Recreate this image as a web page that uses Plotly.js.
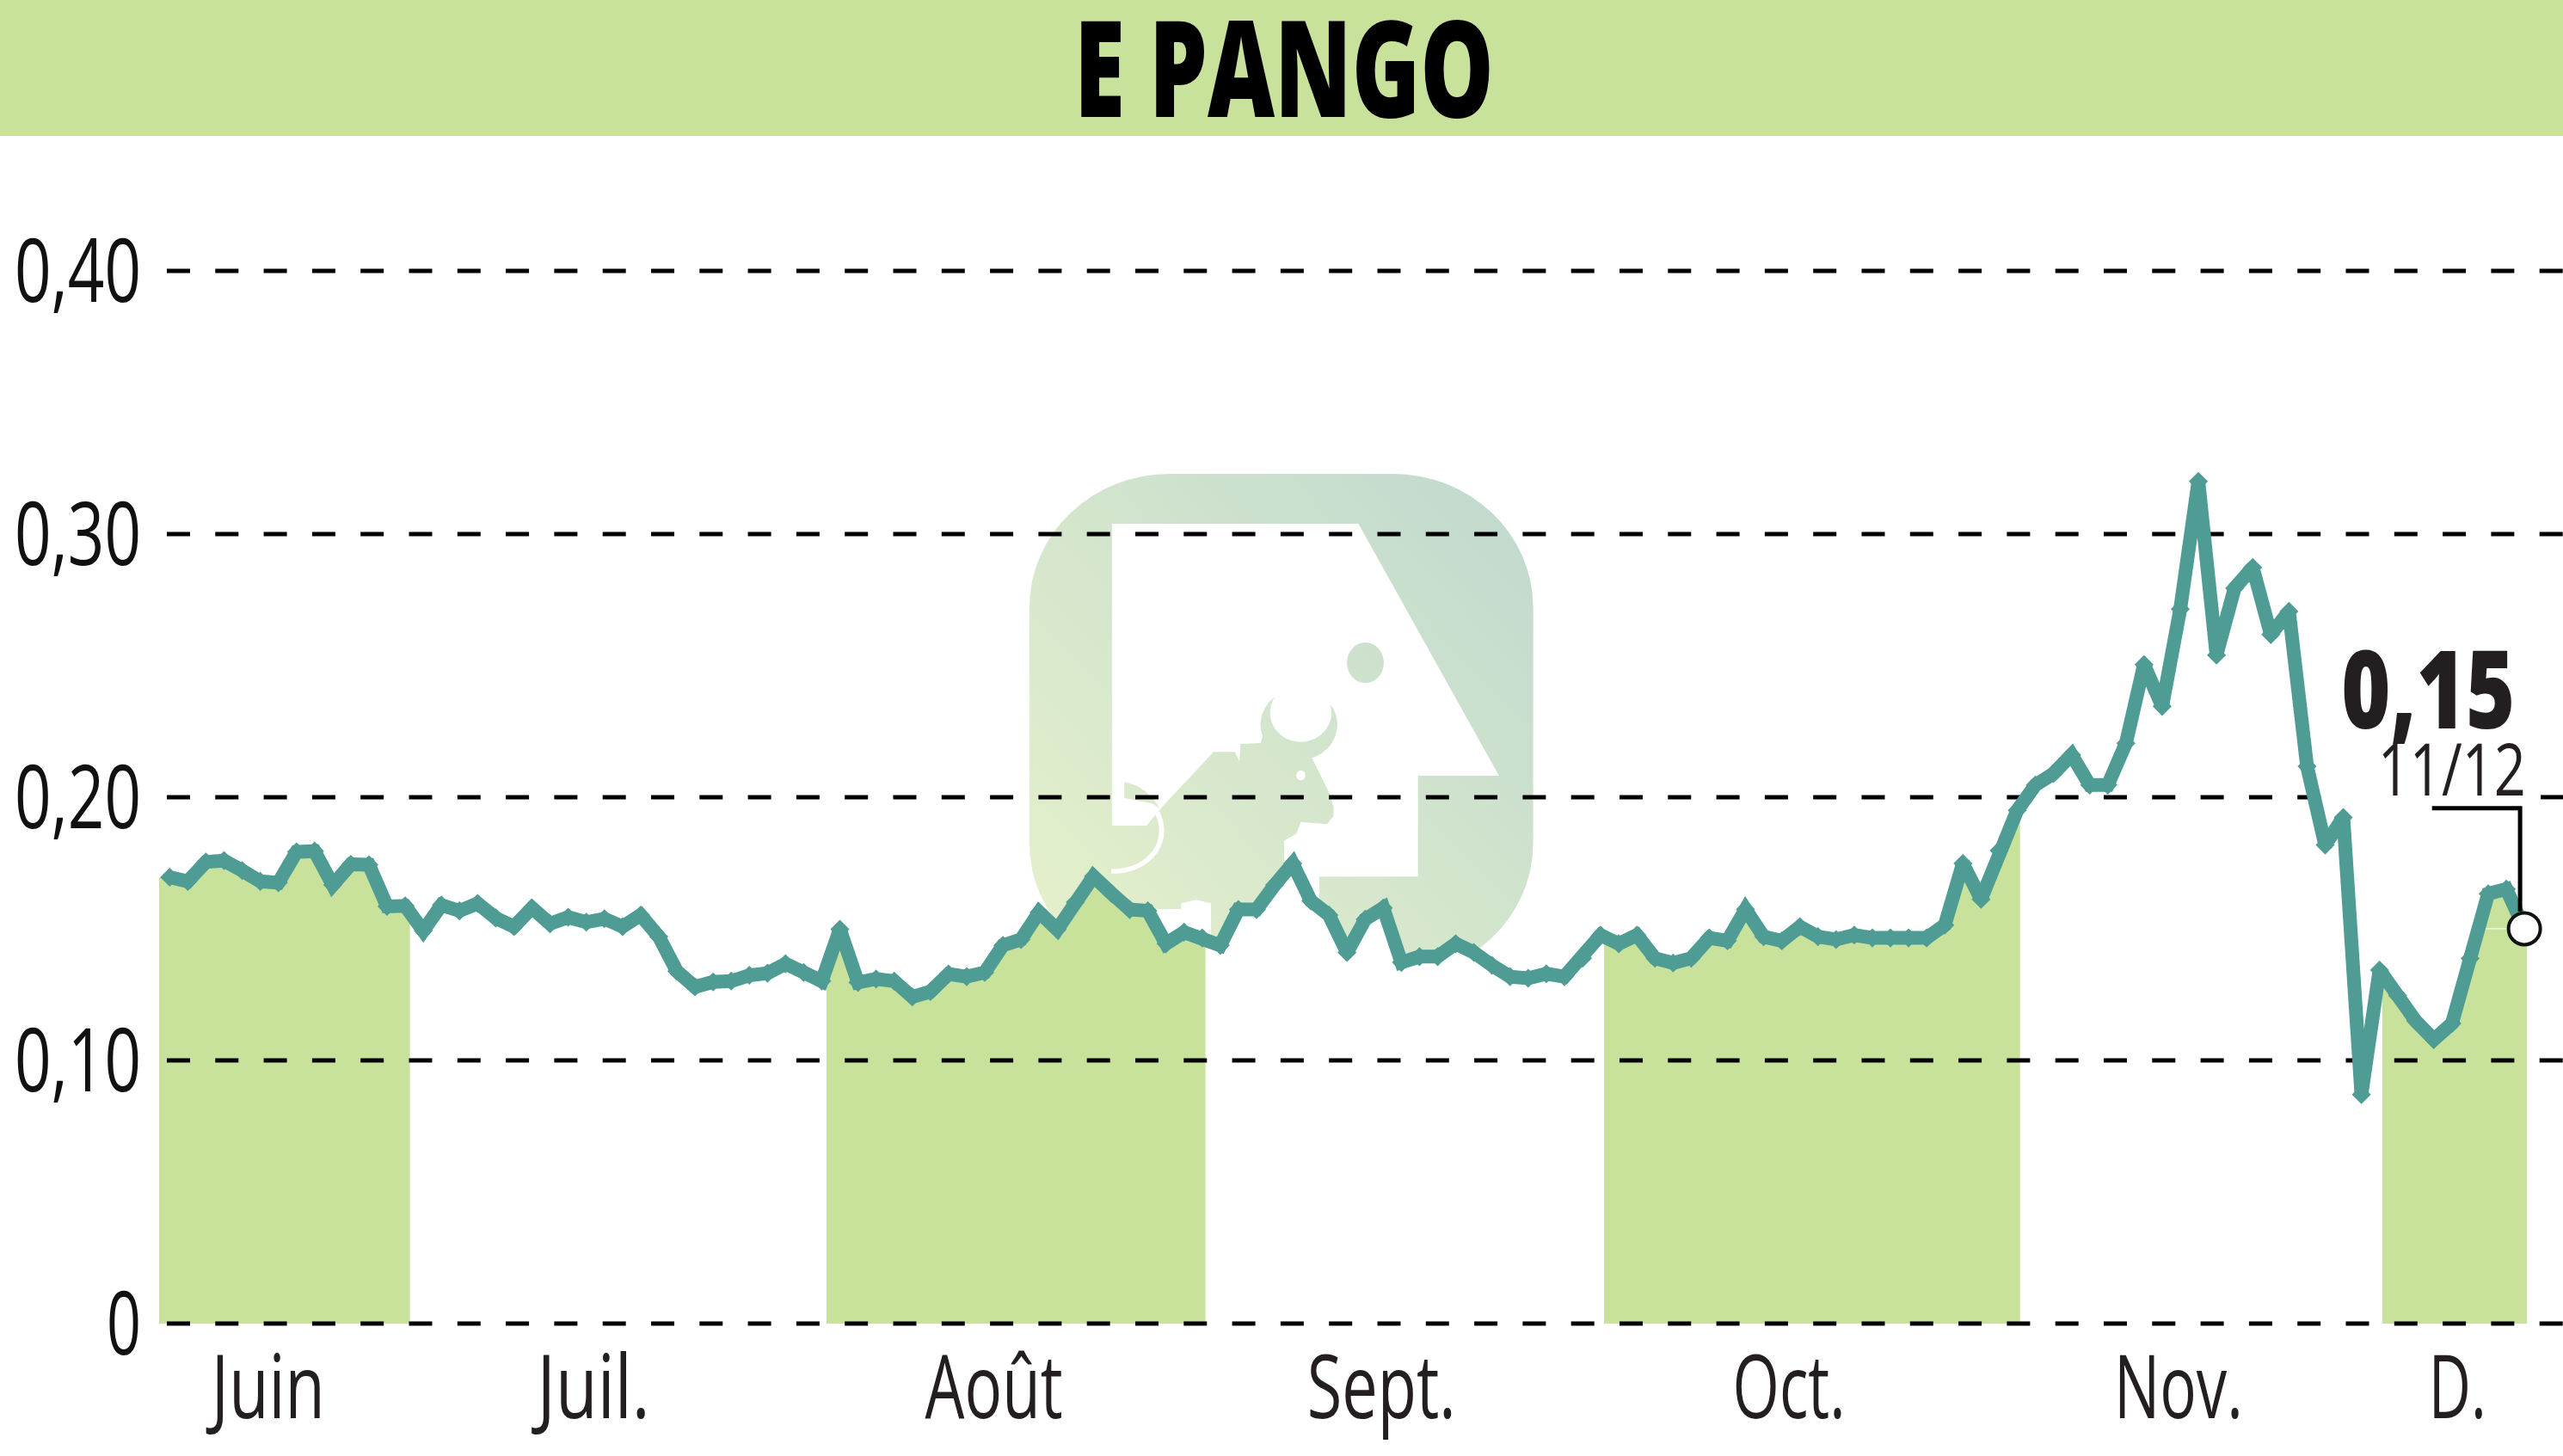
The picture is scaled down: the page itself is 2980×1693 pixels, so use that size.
<!DOCTYPE html>
<html>
<head>
<meta charset="utf-8">
<script src="https://cdn.plot.ly/plotly-3.0.1.min.js"></script>
<style>html,body{margin:0;padding:0;background:#fff}#c{width:2980px;height:1693px}</style>
</head>
<body>
<div id="c"></div>
<script>
const chartTitle = "E PANGO";
const prices = [
0.1696,0.1680,0.1754,0.1759,0.1721,0.1680,0.1675,0.1792,0.1795,0.1666,
0.1745,0.1743,0.1585,0.1587,0.1492,0.1590,0.1568,0.1596,0.1541,0.1508,
0.1579,0.1519,0.1544,0.1525,0.1538,0.1508,0.1552,0.1470,0.1339,0.1279,
0.1298,0.1301,0.1323,0.1331,0.1367,0.1334,0.1301,0.1498,0.1296,0.1309,
0.1301,0.1241,0.1261,0.1328,0.1318,0.1334,0.1437,0.1459,0.1563,0.1497,
0.1601,0.1699,0.1634,0.1573,0.1568,0.1443,0.1487,0.1465,0.1437,0.1573,
0.1573,0.1666,0.1748,0.1606,0.1552,0.1410,0.1536,0.1579,0.1372,0.1394,
0.1394,0.1443,0.1410,0.1361,0.1318,0.1312,0.1329,0.1318,0.1388,0.1476,
0.1443,0.1476,0.1388,0.1370,0.1388,0.1465,0.1454,0.1574,0.1470,0.1454,
0.1508,0.1470,0.1459,0.1476,0.1465,0.1465,0.1465,0.1465,0.1514,0.1748,
0.1612,0.1797,0.1950,0.2046,0.2090,0.2161,0.2046,0.2046,0.2205,0.2504,
0.2345,0.2715,0.3200,0.2540,0.2794,0.2873,0.2618,0.2706,0.2117,0.1818,
0.1923,0.0870,0.1343,0.1246,0.1149,0.1079,0.1140,0.1387,0.1633,0.1651,
0.1500];
const monthEdges = [-0.584,13.27,36.26,57.19,79.19,102.16,122.15,130.14];
const monthColors = ["#c8e29c","#ffffff","#c8e29c","#ffffff","#c8e29c","#ffffff","#c8e29c"];
const monthLabels = ["Juin","Juil.","Août","Sept.","Oct.","Nov.","D."];
const monthTickPos = [5.44,23.4,45.5,66.9,89.4,110.9,126.3];
const monthLabelWidths = [132,131,160,173,131,150,67];
const yTickVals = [0,0.1,0.2,0.3,0.4];
const yTickText = ["0","0,10","0,20","0,30","0,40"];
const yLabelWidths = [40,147,147,147,147];
const xRange = [-0.584,132.13];
const yRange = [-0.002,0.4513];
const gridStartX = -0.157;
const gridGapValue = 0.2;
const gridGapX = [118.83,130.9];
const lastValueText = "0,15";
const lastDateText = "11/12";
const leaderX = [124.9,129.76,129.76];
const leaderY = [0.1958,0.1958,0.1566];

const TEXT = "#231f20", LINE = "#4e9c93", FACE = '"Open Sans","Noto Sans",sans-serif';
const W = 2980, H = 1693, L = 185, T = 158, B = 1545.4;
const px = x => (x-L)/(W-L);
const py = y => 1-(y-T)/(B-T);

function priceAt(x){
  if (x <= 0) return prices[0];
  if (x >= prices.length-1) return prices[prices.length-1];
  const a = Math.floor(x), t = x-a;
  return prices[a] + (t ? t*(prices[a+1]-prices[a]) : 0);
}
const traces = [];
monthColors.forEach((col,m)=>{
  const s = monthEdges[m], e = monthEdges[m+1], xs = [s];
  for (let i = Math.ceil(s); i < e; i++) { if (i > s && i >= 0 && i < prices.length) xs.push(i); }
  xs.push(e);
  traces.push({x:xs, y:xs.map(priceAt), type:"scatter", mode:"lines", fill:"tozeroy",
    fillcolor:col, line:{width:0,color:col}, hoverinfo:"skip"});
});
yTickVals.forEach(v=>{
  const gap = v === gridGapValue;
  traces.push({
    x: gap ? [gridStartX,gridGapX[0],null,gridGapX[1],xRange[1]] : [gridStartX,xRange[1]],
    y: gap ? [v,v,null,v,v] : [v,v],
    type:"scatter", mode:"lines", cliponaxis:false,
    line:{color:"#000",width:5,dash:"27px,29.3px"}, hoverinfo:"skip"});
});
const n = prices.length-1;
traces.push({x:[127.1,n], y:[prices[n],prices[n]], type:"scatter", mode:"lines",
  line:{color:"#fff",width:1}, hoverinfo:"skip"});
traces.push({x:prices.map((_,i)=>i), y:prices, type:"scatter", mode:"lines+markers", cliponaxis:false,
  line:{color:LINE,width:16}, marker:{color:LINE,size:17,symbol:"diamond"}, hoverinfo:"skip"});
traces.push({x:leaderX, y:leaderY, type:"scatter", mode:"lines", cliponaxis:false,
  line:{color:"#000",width:5}, hoverinfo:"skip"});
traces.push({x:[n], y:[prices[n]], type:"scatter", mode:"markers", cliponaxis:false,
  marker:{color:"#fff",size:37,line:{color:"#111",width:4}}, hoverinfo:"skip"});

const svg = `<svg xmlns="http://www.w3.org/2000/svg" viewBox="0 0 1568 1568" preserveAspectRatio="none" width="1568" height="1568">
<defs><linearGradient id="g" gradientUnits="userSpaceOnUse" x1="150" y1="1350" x2="1400" y2="250">
<stop offset="0" stop-color="#e4f0cb"/><stop offset="1" stop-color="#c2dace"/></linearGradient></defs>
<rect x="105" y="75" width="1312" height="1411" rx="365" ry="375" fill="url(#g)"/>
<path fill="#fff" d="M320,215 L962,215 L1328,922 L1117,922 L1117,1205 L860,1205 L860,1450 L770,1450 L768,1105 L800,1085 L812,1052 L880,1058 L897,1035 L897,1008 L885,968 L840,870 L820,858 L720,830 L655,833 L652,882 L640,855 L585,855 L450,1010 L410,1062 L320,1062 Z"/>
<path fill="url(#g)" d="M745,700 A100,100 0 1,0 888,720 A80,82 0 1,1 745,700 Z"/>
<path fill="url(#g)" d="M715,800 L840,840 L820,870 L700,860 Z"/>
<path fill="url(#g)" d="M352,940 C390,945 425,975 445,1015 L425,1000 L352,985 Z"/>
<path fill="none" stroke="#fff" stroke-width="13" d="M318,1190 C400,1195 480,1120 438,1025"/>
<ellipse cx="812" cy="921" rx="12" ry="14" fill="#fff"/>
<ellipse cx="980" cy="605" rx="48" ry="57" fill="url(#g)"/>
<path fill="#fff" d="M430,1296 L500,1296 L500,1280 L540,1270 L578,1280 L578,1450 L430,1450 Z"/>
</svg>`;

const layout = {
  width:W, height:H, paper_bgcolor:"#fff", plot_bgcolor:"rgba(0,0,0,0)", showlegend:false, hovermode:false,
  margin:{l:L,r:0,t:T,b:H-B,pad:0},
  title:{text:chartTitle, x:1493/W, xanchor:"center", y:1-81/H, yanchor:"middle",
    font:{family:FACE,size:156,color:"#000",weight:800}},
  xaxis:{range:xRange, tickmode:"array", tickvals:monthTickPos, ticktext:monthLabels,
    showgrid:false, zeroline:false, showline:false, ticks:"", ticklabelstandoff:1,
    tickfont:{family:FACE,size:102,color:TEXT}, fixedrange:true},
  yaxis:{range:yRange, tickmode:"array", tickvals:yTickVals, ticktext:yTickText,
    showgrid:false, zeroline:false, showline:false, ticks:"", ticklabelstandoff:20,
    tickfont:{family:FACE,size:102,color:"#111"}, fixedrange:true},
  shapes:[{type:"rect", xref:"paper", yref:"paper", x0:px(0), x1:px(W), y0:py(T), y1:py(-5),
    fillcolor:"#c8e29c", line:{width:0}, layer:"below"}],
  images:[{source:"data:image/svg+xml;charset=utf-8,"+encodeURIComponent(svg), xref:"paper", yref:"paper",
    x:px(1150), y:py(520), sizex:700/(W-L), sizey:650/(B-T), xanchor:"left", yanchor:"top", sizing:"stretch", layer:"below"}],
  annotations:[
    {text:lastValueText, xref:"paper", yref:"paper", x:px(2823), y:py(799), xanchor:"center", yanchor:"middle",
      showarrow:false, font:{family:FACE,size:125,color:TEXT,weight:800}},
    {text:lastDateText, xref:"paper", yref:"paper", x:px(2851), y:py(892), xanchor:"center", yanchor:"middle",
      showarrow:false, font:{family:FACE,size:85,color:TEXT}}
  ]
};
function squeeze(el, w){ if (el) { el.setAttribute("textLength", w); el.setAttribute("lengthAdjust","spacingAndGlyphs"); } }
Plotly.newPlot("c", traces, layout, {displayModeBar:false, staticPlot:true}).then(gd=>{
  gd.querySelectorAll(".xtick text").forEach((t,i)=>squeeze(t, monthLabelWidths[i]));
  gd.querySelectorAll(".ytick text").forEach((t,i)=>squeeze(t, yLabelWidths[i]));
  const a = gd.querySelectorAll(".annotation-text");
  squeeze(a[0], 202); squeeze(a[1], 172);
  squeeze(gd.querySelector(".gtitle"), 488);
});
</script>
</body>
</html>
